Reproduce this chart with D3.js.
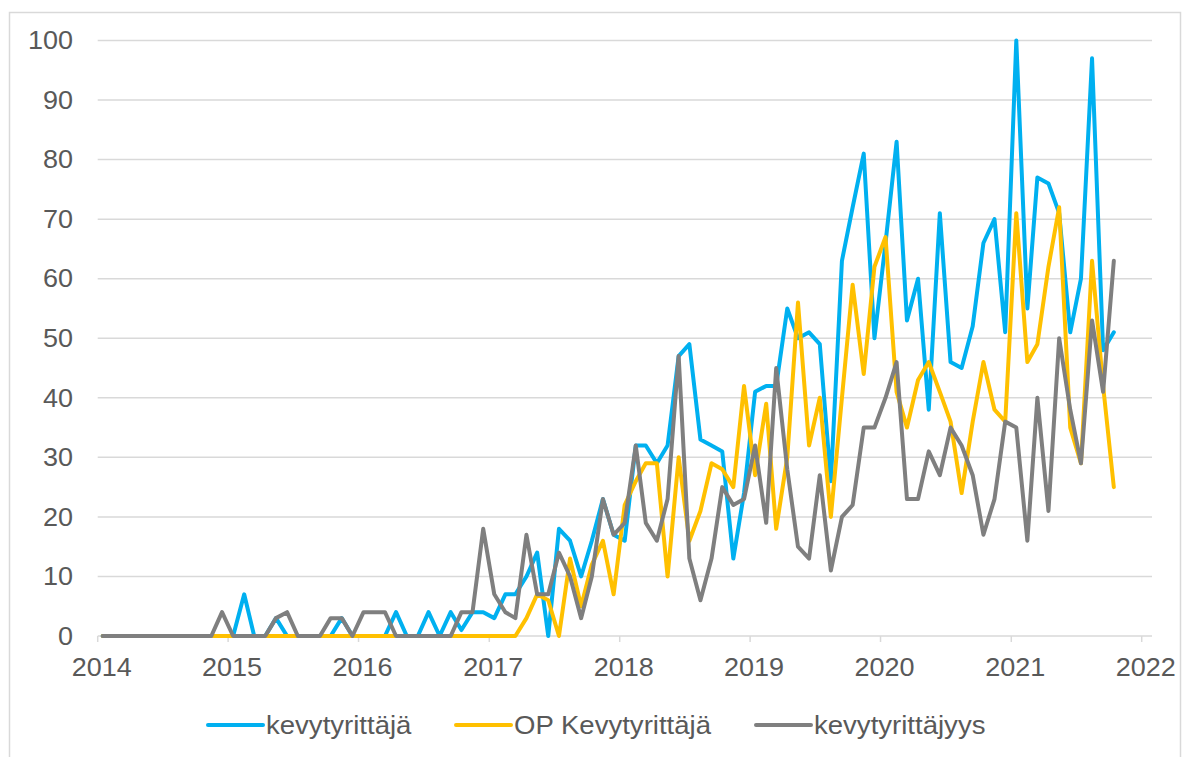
<!DOCTYPE html>
<html>
<head>
<meta charset="utf-8">
<script src="https://cdn.jsdelivr.net/npm/d3@7"></script>
<style>
  body { margin: 0; background: #fff; }
  text { font-family: "Liberation Sans", Arial, sans-serif; fill: #595959; }
</style>
</head>
<body>
<svg id="chart" width="1193" height="757"></svg>
<script>
// monthly counts, Jan 2014 .. Oct 2021
const seriesNames = ["kevytyrittäjä", "OP Kevytyrittäjä", "kevytyrittäjyys"];
const seriesColors = ["#00b0f0", "#ffc000", "#7f7f7f"];

const kevytyrittaja = [
  0, 0, 0, 0, 0, 0, 0, 0, 0, 0, 0, 0,
  0, 7, 0, 0, 3, 0, 0, 0, 0, 0, 3, 0,
  0, 0, 0, 4, 0, 0, 4, 0, 4, 1, 4, 4,
  3, 7, 7, 10, 14, 0, 18, 16, 10, 16, 23, 17,
  16, 32, 32, 29, 32, 47, 49, 33, 32, 31, 13, 24,
  41, 42, 42, 55, 50, 51, 49, 26, 63, 72, 81, 50,
  66, 83, 53, 60, 38, 71, 46, 45, 52, 66, 70, 51,
  100, 55, 77, 76, 71, 51, 60, 97, 48, 51
];
const opKevytyrittaja = [
  0, 0, 0, 0, 0, 0, 0, 0, 0, 0, 0, 0,
  0, 0, 0, 0, 0, 0, 0, 0, 0, 0, 0, 0,
  0, 0, 0, 0, 0, 0, 0, 0, 0, 0, 0, 0,
  0, 0, 0, 3, 7, 6, 0, 13, 5, 12, 16, 7,
  22, 26, 29, 29, 10, 30, 16, 21, 29, 28, 25, 42,
  27, 39, 18, 30, 56, 32, 40, 20, 40, 59, 44, 62,
  67, 41, 35, 43, 46, 41, 36, 24, 36, 46, 38, 36,
  71, 46, 49, 62, 72, 35, 29, 63, 42, 25
];
const kevytyrittajyys = [
  0, 0, 0, 0, 0, 0, 0, 0, 0, 0, 0, 4,
  0, 0, 0, 0, 3, 4, 0, 0, 0, 3, 3, 0,
  4, 4, 4, 0, 0, 0, 0, 0, 0, 4, 4, 18,
  7, 4, 3, 17, 7, 7, 14, 10, 3, 10, 23, 17,
  19, 32, 19, 16, 23, 47, 13, 6, 13, 25, 22, 23,
  32, 19, 45, 28, 15, 13, 27, 11, 20, 22, 35, 35,
  40, 46, 23, 23, 31, 27, 35, 32, 27, 17, 23, 36,
  35, 16, 40, 21, 50, 38, 29, 53, 41, 63
];
const yearTicks = [2014, 2015, 2016, 2017, 2018, 2019, 2020, 2021, 2022];
const yTicks = [0, 10, 20, 30, 40, 50, 60, 70, 80, 90, 100];

const allSeries = [kevytyrittaja, opKevytyrittaja, kevytyrittajyys];

var svg = d3.select("#chart");

// outer chart border
svg.append("rect")
    .attr("x", 9.5).attr("y", 12.5)
    .attr("width", 1171).attr("height", 780)
    .attr("fill", "none")
    .attr("stroke", "#d9d9d9")
    .attr("stroke-width", 1.5);

var plotRight = 1152;

var x = d3.scaleUtc()
    .domain([Date.UTC(2014, 0, 1), Date.UTC(2022, 0, 1)])
    .range([97.7, 1141.7]);
var y = d3.scaleLinear()
    .domain([0, 100])
    .range([636, 40.5]);

// points sit mid-month on the date axis
function monthDate(i) {
  return d3.utcDay.offset(d3.utcMonth.offset(new Date(Date.UTC(2014, 0, 1)), i), 14);
}

// gridlines
svg.append("g")
  .selectAll("line")
  .data(yTicks)
  .join("line")
    .attr("x1", x.range()[0]).attr("x2", plotRight)
    .attr("y1", (d) => y(d)).attr("y2", (d) => y(d))
    .attr("stroke", "#d9d9d9")
    .attr("stroke-width", 1.5);

// y labels
svg.append("g")
  .selectAll("text")
  .data(yTicks)
  .join("text")
    .attr("transform", (d) => "translate(73," + y(d) + ") scale(1.08,1)")
    .attr("dy", "0.35em")
    .attr("text-anchor", "end")
    .style("font-size", "25px")
    .text((d) => d);

// x axis ticks + labels
var xt = svg.append("g");
xt.selectAll("line")
  .data(yearTicks)
  .join("line")
    .attr("x1", (d) => x(Date.UTC(d, 0, 1))).attr("x2", (d) => x(Date.UTC(d, 0, 1)))
    .attr("y1", y(0)).attr("y2", y(0) + 6)
    .attr("stroke", "#d9d9d9")
    .attr("stroke-width", 1.5);
xt.selectAll("text")
  .data(yearTicks)
  .join("text")
    .attr("transform", (d) => "translate(" + (x(Date.UTC(d, 0, 1)) + 4) + ",676) scale(1.08,1)")
    .attr("text-anchor", "middle")
    .style("font-size", "25px")
    .text((d) => d);

var line = d3.line()
    .x((d, i) => x(monthDate(i)))
    .y((d) => y(d));

allSeries.forEach((s, k) => {
  svg.append("path")
      .datum(s)
      .attr("fill", "none")
      .attr("stroke", seriesColors[k])
      .attr("stroke-width", 4)
      .attr("stroke-linejoin", "round")
      .attr("stroke-linecap", "round")
      .attr("d", line);
});

// legend
var legendX = [208, 456, 756];
var lg = svg.append("g");
seriesNames.forEach((name, k) => {
  lg.append("line")
      .attr("x1", legendX[k]).attr("x2", legendX[k] + 55)
      .attr("y1", 725).attr("y2", 725)
      .attr("stroke", seriesColors[k])
      .attr("stroke-width", 4)
      .attr("stroke-linecap", "round");
  lg.append("text")
      .attr("transform", "translate(" + (legendX[k] + 58) + ",734) scale(1.06,1)")
      .style("font-size", "26px")
      .text(name);
});
</script>
</body>
</html>
